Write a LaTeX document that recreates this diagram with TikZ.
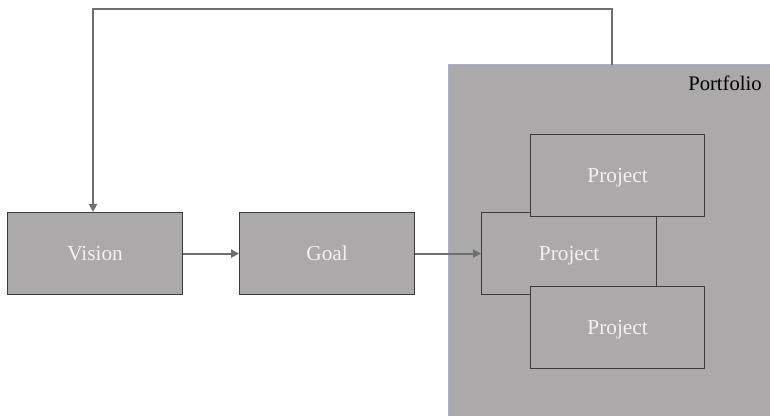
\documentclass[tikz,border=0pt]{standalone}
\usepackage{fontspec}
\setmainfont{Liberation Serif}
\usetikzlibrary{arrows.meta}
\definecolor{boxfill}{HTML}{ABA9AA}
\definecolor{boxline}{HTML}{3A3A3A}
\definecolor{arrowgray}{HTML}{6E6E6E}
\definecolor{edgeblue}{HTML}{A9B4CC}
\begin{document}
\begin{tikzpicture}[x=0.75pt,y=-0.75pt,
  block/.style={draw=boxline,fill=boxfill,line width=0.9pt,minimum width=131.25pt,minimum height=61.5pt,
    inner sep=0pt,text=white!95!black,font=\fontsize{16}{18}\selectfont,anchor=north west,
    text height=10pt,text depth=0pt},
  flow/.style={draw=arrowgray,line width=1.5pt,-{Triangle[length=6pt,width=6pt]}}]
\useasboundingbox (0,0) rectangle (770,416);
% portfolio area
\node[draw=edgeblue,fill=boxfill,line width=0.6pt,minimum width=241.5pt,minimum height=264pt,inner sep=0pt,anchor=north west] (portfolio) at (448,64) {};
\node[anchor=north east,font=\fontsize{15.5}{18}\selectfont,inner sep=0pt] (plabel) at (762,76) {Portfolio};
% projects
\node[block,minimum width=131.25pt] (p2) at (481,212) {Project};
\node[block,minimum width=130.5pt] (p1) at (530,134) {Project};
\node[block,minimum width=130.5pt] (p3) at (530,286) {Project};
% chain
\node[block] (vision) at (7,212) {Vision};
\node[block] (goal) at (239,212) {Goal};
\draw[flow] (vision.east) -- (goal.west);
\draw[flow] (goal.east) -- (p2.west);
% feedback loop
\coordinate (fbstart) at (612,64);
\draw[flow,line cap=rect] (fbstart) -- (612,9) -- (93,9) -- (vision.north -| 93,0);
\end{tikzpicture}
\end{document}
